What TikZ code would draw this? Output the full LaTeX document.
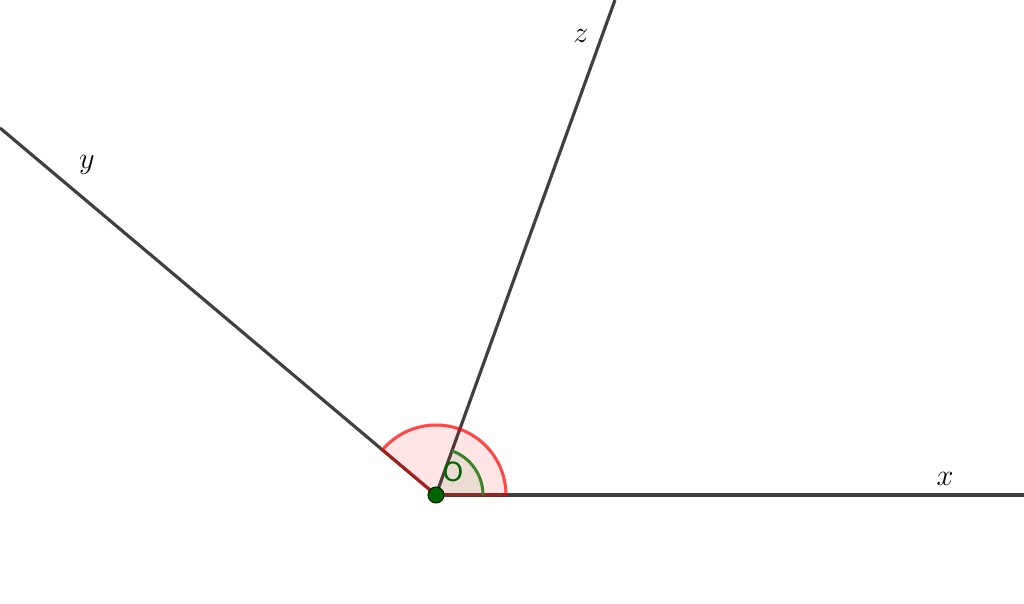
\documentclass[tikz,border=0pt]{standalone}
\usepackage{amsmath}
\usepackage{fontspec}
\newfontfamily\ptfont{DejaVu Sans}
\usepackage{tikz}
\definecolor{raygray}{RGB}{64,64,64}
\definecolor{ptgreen}{RGB}{0,100,0}
\definecolor{arcgreen}{RGB}{60,130,40}
\begin{document}
\begin{tikzpicture}[x=0.02cm,y=0.02cm,
    ray/.style={draw=raygray,line width=1.8pt},
    lbl/.style={font=\fontsize{17}{20}\selectfont}]
				\useasboundingbox (0,0) rectangle (1024,604);
				\coordinate (O) at (436,109);
				\coordinate (X) at (1024,109);
				\coordinate (Y) at (0,476);
				\coordinate (Z) at (615,604);
				\draw[ray] (O) -- (X);
				\draw[ray] (O) -- (Y);
				\draw[ray] (O) -- (Z);
				\filldraw[fill=red,fill opacity=0.1,draw=red,draw opacity=0.5,line width=1.7pt] (O) -- ++(0:70) arc [start angle=0,end angle=140,radius=70] -- cycle;
				\draw[red,opacity=0.4,line width=1.7pt] (O) ++(0:70) arc [start angle=0,end angle=140,radius=70];
				\fill[arcgreen,opacity=0.1] (O) -- ++(0:47) arc [start angle=0,end angle=70,radius=47] -- cycle;
				\draw[arcgreen,line width=1.7pt] (O) ++(0:47) arc [start angle=0,end angle=70,radius=47];
				\filldraw[fill=ptgreen,draw=black!70!ptgreen,line width=0.6pt] (O) circle [radius=8];
				\node[text=ptgreen,font=\ptfont\fontsize{15}{18}\selectfont] (Olbl) at (453,132) {O};
				\node[lbl] (xlbl) at (945,125) {$x$};
				\node[lbl] (ylbl) at (87,439) {$y$};
				\node[lbl] (zlbl) at (581,568) {$z$};
			\end{tikzpicture}
\end{document}
